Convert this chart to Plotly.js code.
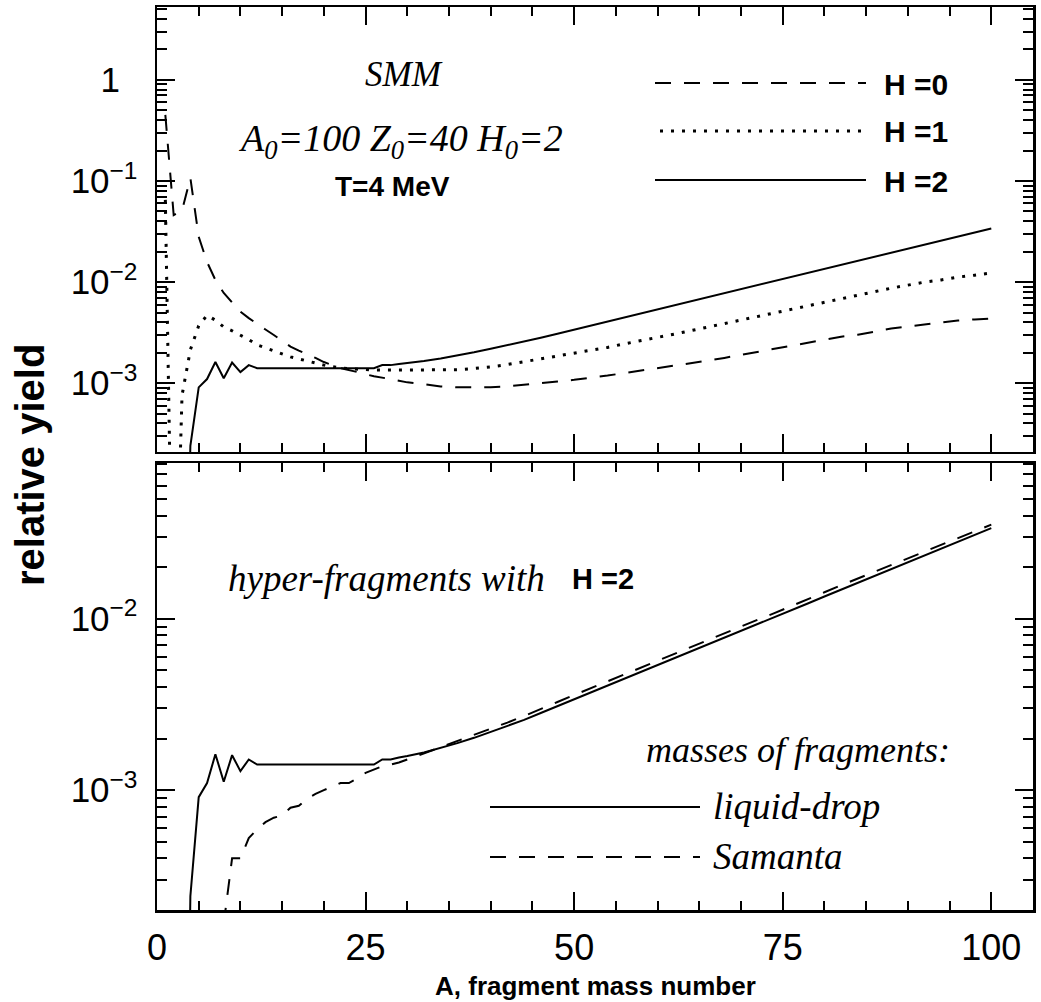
<!DOCTYPE html>
<html>
<head>
<meta charset="utf-8">
<script src="https://cdn.plot.ly/plotly-3.0.1.min.js"></script>
<style>html,body{margin:0;padding:0;background:#fff;}</style>
</head>
<body>
<div id="chart" style="width:1041px;height:1002px;"></div>
<script>
// ---------- data ----------
// Top panel: SMM, A0=100 Z0=40 H0=2, T=4 MeV
const A_H0 = [1,2,3,4,5,6,7,8,9,10,11,12,13,14,15,16,17,18,19,20,
  22,24,26,28,30,32,34,36,38,40,42,44,46,48,50,52,54,56,58,60,
  62,64,66,68,70,72,74,76,78,80,82,84,86,88,90,92,94,96,98,100];
const yield_H0 = [0.45,0.046,0.051,0.107,0.028,0.0158,0.0105,0.0078,0.0063,0.0051,
  0.0044,0.0039,0.0034,0.0030,0.0026,0.0023,0.0021,0.00195,0.00178,0.00162,
  0.00141,0.00129,0.00117,0.00110,0.00102,0.00098,0.00093,0.00091,0.00091,0.00091,
  0.00093,0.00097,0.00100,0.00104,0.00108,0.00113,0.00119,0.00126,0.00133,0.00141,
  0.00149,0.00158,0.00167,0.00178,0.00191,0.00204,0.00219,0.00234,0.00251,0.00269,
  0.00288,0.00302,0.00324,0.00347,0.00363,0.00380,0.00398,0.00417,0.00427,0.00437];

const A_H1 = [1,2,3,4,5,6,7,8,9,10,11,12,13,14,15,16,17,18,19,20,
  22,24,26,28,30,32,34,36,38,40,42,44,46,48,50,52,54,56,58,60,
  62,64,66,68,70,72,74,76,78,80,82,84,86,88,90,92,94,96,98,100];
const yield_H1 = [0.065,1e-6,7.6e-4,2.14e-3,3.7e-3,4.7e-3,4.2e-3,3.6e-3,3.3e-3,3.0e-3,
  2.7e-3,2.4e-3,2.24e-3,2.09e-3,1.95e-3,1.82e-3,1.74e-3,1.66e-3,1.58e-3,1.51e-3,
  1.41e-3,1.38e-3,1.35e-3,1.35e-3,1.35e-3,1.35e-3,1.35e-3,1.36e-3,1.40e-3,1.45e-3,
  1.53e-3,1.63e-3,1.74e-3,1.86e-3,2.0e-3,2.12e-3,2.26e-3,2.45e-3,2.63e-3,2.82e-3,
  3.06e-3,3.31e-3,3.59e-3,3.89e-3,4.22e-3,4.57e-3,4.97e-3,5.37e-3,5.84e-3,6.31e-3,
  6.86e-3,7.41e-3,7.99e-3,8.71e-3,9.33e-3,1.0e-2,1.05e-2,1.12e-2,1.17e-2,1.23e-2];

// H=2 (liquid-drop masses) - shown in both panels
const A_H2 = [3,4,5,6,7,8,9,10,11,12,13,14,15,16,17,18,19,20,21,22,23,24,25,26,27,28,29,30,
  32,34,36,38,40,42,44,46,48,50,52,54,56,58,60,
  62,64,66,68,70,72,74,76,78,80,82,84,86,88,90,92,94,96,98,100];
const yield_H2 = [1e-7,2.4e-4,9.1e-4,1.1e-3,1.62e-3,1.12e-3,1.6e-3,1.29e-3,1.51e-3,
  1.41e-3,1.41e-3,1.41e-3,1.41e-3,1.41e-3,1.41e-3,1.41e-3,1.41e-3,1.41e-3,1.41e-3,
  1.41e-3,1.41e-3,1.41e-3,1.41e-3,1.41e-3,1.51e-3,1.51e-3,1.55e-3,1.58e-3,
  1.66e-3,1.76e-3,1.88e-3,2.02e-3,2.19e-3,2.37e-3,2.57e-3,2.82e-3,3.09e-3,3.39e-3,
  3.72e-3,4.07e-3,4.47e-3,4.9e-3,5.37e-3,5.89e-3,6.46e-3,7.08e-3,7.76e-3,8.51e-3,
  9.33e-3,1.02e-2,1.12e-2,1.23e-2,1.35e-2,1.48e-2,1.62e-2,1.78e-2,1.95e-2,2.14e-2,
  2.34e-2,2.57e-2,2.82e-2,3.09e-2,3.39e-2];

// Bottom panel: Samanta masses, H=2
const A_sam = [8,9,10,11,12,13,14,15,16,17,18,19,20,21,22,23,24,25,26,27,28,29,30,
  32,34,36,38,40,42,44,46,48,50,52,54,56,58,60,
  62,64,66,68,70,72,74,76,78,80,82,84,86,88,90,92,94,96,98,100];
const yield_sam = [1.66e-4,4.0e-4,4.0e-4,5.25e-4,5.9e-4,6.5e-4,6.9e-4,7.1e-4,7.9e-4,8.1e-4,
  8.9e-4,9.5e-4,1.0e-3,1.05e-3,1.10e-3,1.10e-3,1.17e-3,1.26e-3,1.32e-3,1.38e-3,
  1.41e-3,1.45e-3,1.51e-3,
  1.64e-3,1.77e-3,1.92e-3,2.08e-3,2.27e-3,2.48e-3,2.71e-3,2.99e-3,3.27e-3,3.59e-3,
  3.94e-3,4.32e-3,4.73e-3,5.19e-3,5.69e-3,6.24e-3,6.84e-3,7.50e-3,8.22e-3,9.02e-3,
  9.89e-3,1.08e-2,1.19e-2,1.30e-2,1.43e-2,1.57e-2,1.72e-2,1.89e-2,2.07e-2,2.26e-2,
  2.48e-2,2.71e-2,2.96e-2,3.24e-2,3.55e-2];

// tick labels
const xTickVals = [0,25,50,75,100];
const xTickText = ['0','25','50','75','100'];
const yTopTickVals = [1,0.1,0.01,0.001];
const yTopTickText = ['1\u2002','10<sup>\u22121</sup>','10<sup>\u22122</sup>','10<sup>\u22123</sup>'];
const yBotTickVals = [0.01,0.001];
const yBotTickText = ['10<sup>\u22122</sup>','10<sup>\u22123</sup>'];

// ---------- styling ----------
const SANS = 'Liberation Sans, Arial, sans-serif';
const SERIF = 'Liberation Serif, Times New Roman, serif';
const BLACK = '#000';

const minorLog = [];
for (let e = -5; e <= 0; e++) for (let d = 2; d <= 9; d++) minorLog.push(d * Math.pow(10, e));

const DASH = '16px,13px';
const DOT = '3px,8px';

const traces = [
  {x: A_H0, y: yield_H0, xaxis: 'x', yaxis: 'y', mode: 'lines', name: 'H=0',
   line: {color: BLACK, width: 2, dash: DASH}},
  {x: A_H1, y: yield_H1, xaxis: 'x', yaxis: 'y', mode: 'lines', name: 'H=1',
   line: {color: BLACK, width: 3, dash: DOT}},
  {x: A_H2, y: yield_H2, xaxis: 'x', yaxis: 'y', mode: 'lines', name: 'H=2',
   line: {color: BLACK, width: 2}},
  {x: A_H2, y: yield_H2, xaxis: 'x2', yaxis: 'y2', mode: 'lines', name: 'liquid-drop',
   line: {color: BLACK, width: 2}},
  {x: A_sam, y: yield_sam, xaxis: 'x2', yaxis: 'y2', mode: 'lines', name: 'Samanta',
   line: {color: BLACK, width: 2, dash: DASH}}
];

function xAxis(extra) {
  return Object.assign({
    range: [0, 105], showgrid: false, zeroline: false,
    showline: true, linecolor: BLACK, linewidth: 2.5, mirror: 'allticks',
    ticks: 'inside', ticklen: 18, tickwidth: 2, tickcolor: BLACK,
    tickmode: 'array', tickvals: xTickVals, ticktext: xTickText,
    minor: {dtick: 5, ticks: 'inside', ticklen: 9, tickwidth: 2, tickcolor: BLACK, showgrid: false},
    tickfont: {family: SANS, size: 36, color: BLACK}
  }, extra);
}
function yAxis(extra) {
  return Object.assign({
    type: 'log', showgrid: false, zeroline: false,
    showline: true, linecolor: BLACK, linewidth: 2.5, mirror: 'allticks',
    ticks: 'inside', ticklen: 18, tickwidth: 2, tickcolor: BLACK,
    tickmode: 'array', ticklabelstandoff: 10,
    minor: {tickmode: 'array', tickvals: minorLog, ticks: 'inside', ticklen: 10, tickwidth: 2, tickcolor: BLACK, showgrid: false},
    tickfont: {family: SANS, size: 35, color: BLACK}
  }, extra);
}

// px -> paper helpers for annotation placement (plot area 157..1033 x, 7..910 y)
const px = v => (v - 157) / 876;
const py = v => (910 - v) / 903;

const annFont = (fam, size, extra) => Object.assign({family: fam, size: size, color: BLACK}, extra || {});

const annotations = [
  {text: '<i>SMM</i>', x: px(404), y: py(75), font: annFont(SERIF, 35)},
  {text: '<i>A<sub>0</sub>=100 Z<sub>0</sub>=40 H<sub>0</sub>=2</i>', x: px(400), y: py(141), font: annFont(SERIF, 38)},
  {text: '<b>T=4 MeV</b>', x: px(392), y: py(186), font: annFont(SANS, 28)},
  {text: '<b>H =0</b>', x: px(882), y: py(84), xanchor: 'left', font: annFont(SANS, 30)},
  {text: '<b>H =1</b>', x: px(882), y: py(132), xanchor: 'left', font: annFont(SANS, 30)},
  {text: '<b>H =2</b>', x: px(882), y: py(181), xanchor: 'left', font: annFont(SANS, 30)},
  {text: '<i>hyper-fragments with</i>', x: px(547), y: py(578), xanchor: 'right', font: annFont(SERIF, 37)},
  {text: '<b>H =2</b>', x: px(570), y: py(579), xanchor: 'left', font: annFont(SANS, 29)},
  {text: '<i>masses of fragments:</i>', x: px(952), y: py(750), xanchor: 'right', font: annFont(SERIF, 36)},
  {text: '<i>liquid-drop</i>', x: px(711), y: py(806), xanchor: 'left', font: annFont(SERIF, 37)},
  {text: '<i>Samanta</i>', x: px(711), y: py(856), xanchor: 'left', font: annFont(SERIF, 37)},
  {text: '<b>relative yield</b>', x: px(30), y: py(465), textangle: -90, font: annFont(SANS, 40)},
  {text: '<b>A, fragment mass number</b>', x: px(595), y: py(986), font: annFont(SANS, 26)}
].map(a => Object.assign({xref: 'paper', yref: 'paper', showarrow: false, xanchor: 'center', yanchor: 'middle'}, a));

const lineShape = (x0, x1, y, dash, width) => ({
  type: 'line', xref: 'paper', yref: 'paper', x0: px(x0), x1: px(x1), y0: py(y), y1: py(y),
  line: {color: BLACK, width: width || 2, dash: dash || 'solid'}
});

const shapes = [
  lineShape(655, 866, 83, DASH),
  lineShape(660, 866, 131, DOT, 3),
  lineShape(655, 866, 180),
  lineShape(490, 700, 807),
  lineShape(490, 700, 857, DASH)
];

const layout = {
  width: 1041, height: 1002,
  margin: {l: 157, r: 8, t: 7, b: 92},
  paper_bgcolor: '#fff', plot_bgcolor: '#fff',
  showlegend: false,
  xaxis: xAxis({domain: [0, 1], anchor: 'y', showticklabels: false}),
  yaxis: yAxis({domain: [0.5072, 1], anchor: 'x', range: [-3.68, 0.72],
    tickvals: yTopTickVals, ticktext: yTopTickText}),
  xaxis2: xAxis({domain: [0, 1], anchor: 'y2', showticklabels: true, ticklabelstandoff: 4}),
  yaxis2: yAxis({domain: [0, 0.4950], anchor: 'x2', range: [-3.70, -1.09],
    tickvals: yBotTickVals, ticktext: yBotTickText}),
  annotations: annotations,
  shapes: shapes
};

Plotly.newPlot('chart', traces, layout, {displayModeBar: false, staticPlot: true});
</script>
</body>
</html>
